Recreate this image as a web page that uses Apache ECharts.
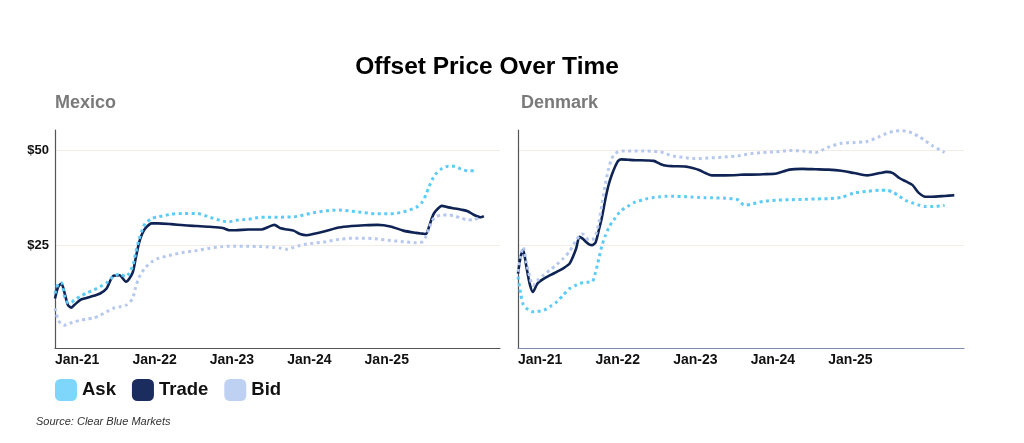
<!DOCTYPE html>
<html>
<head>
<meta charset="utf-8">
<script src="https://cdn.jsdelivr.net/npm/echarts@6/dist/echarts.min.js"></script>
<style>
  html, body { margin: 0; padding: 0; background: #fff; }
  #chart { width: 1024px; height: 443px; }
</style>
</head>
<body>
<div id="chart"></div>
<script>
// months counted from Jan-21
var tickMonths = [0, 12, 24, 36, 48];
var tickLabels = ['Jan-21', 'Jan-22', 'Jan-23', 'Jan-24', 'Jan-25'];
var yTicks = [25, 50];

// Mexico
var mxMonths = [0, 0.5, 1, 1.5, 2, 2.5, 3, 4, 5, 6, 7, 8, 9, 10, 11, 12, 12.5, 13, 13.5, 14, 15, 16, 18, 20, 22, 24, 26, 27, 28, 30, 32, 33, 34, 35, 36, 37, 38, 39, 40, 42, 44, 46, 48, 50, 52, 54, 56, 57, 57.5, 58, 58.5, 59, 60, 61, 62, 63, 64, 65, 66, 66.5];
var mxAsk = [12.4, 15.0, 15.2, 11.5, 10.0, 10.0, 10.7, 11.7, 12.6, 13.3, 14.2, 15.2, 16.8, 17.5, 16.8, 19.4, 23.0, 26.4, 29.0, 30.8, 32.1, 32.5, 33.2, 33.4, 33.4, 32.4, 31.4, 31.2, 31.6, 31.9, 32.4, 32.4, 32.4, 32.4, 32.5, 32.5, 32.8, 33.2, 33.6, 34.1, 34.3, 34.0, 33.6, 33.3, 33.3, 33.8, 35.0, 36.5, 38.3, 40.4, 42.3, 43.7, 45.2, 45.8, 45.8, 45.0, 44.6, 44.6, null, null];
var mxTrade = [11.1, 14.2, 15.0, 12.4, 9.4, 8.7, 9.4, 10.8, 11.3, 11.8, 12.4, 13.7, 17.0, 17.2, 15.5, 17.7, 21.5, 25.5, 28.0, 29.5, 30.8, 30.8, 30.6, 30.3, 30.1, 29.9, 29.6, 29.0, 29.0, 29.2, 29.2, 29.8, 30.4, 29.5, 29.2, 28.9, 28.0, 27.7, 28.0, 28.8, 29.7, 30.1, 30.3, 30.4, 30.0, 28.9, 28.3, 28.1, 28.0, 29.9, 32.5, 34.0, 35.4, 35.0, 34.7, 34.4, 34.0, 33.0, 32.4, 32.7];
var mxBid = [8.5, 5.4, 4.4, 4.1, 4.3, 4.7, 5.0, 5.4, 5.7, 6.0, 6.7, 7.6, 8.5, 8.9, 9.3, 11.0, 14.0, 16.5, 18.0, 19.2, 20.7, 21.6, 22.5, 23.2, 23.7, 24.3, 24.7, 24.8, 24.8, 24.8, 24.7, 24.6, 24.5, 24.3, 24.0, 24.5, 25.0, 25.4, 25.6, 26.0, 26.6, 26.9, 26.9, 26.7, 26.3, 26.0, 25.7, 26.0, 27.3, 29.5, 31.5, 32.5, 33.0, 33.0, 32.7, 32.2, 31.7, 31.8, 32.5, null];

// Denmark
var dkMonths = [0, 0.4, 0.8, 1.3, 1.8, 2.3, 3, 4, 5, 6, 7, 8, 9, 9.5, 10, 10.5, 11, 11.5, 12, 12.5, 13, 13.5, 14, 14.5, 15, 15.5, 16, 17, 18, 20, 21, 22, 23, 24, 26, 27, 28, 29, 30, 32, 34, 35, 36, 38, 40, 42, 44, 46, 48, 50, 52, 54, 56, 57, 58, 59, 60, 61, 62, 63, 64, 66, 67.5];
var dkAsk = [16.8, 12.5, 9.5, 8.5, 8.0, 7.6, 7.7, 8.0, 9.0, 10.2, 12.0, 13.7, 14.6, 15.0, 15.2, 15.3, 15.4, 15.5, 18.0, 21.5, 25.0, 27.5, 29.5, 31.0, 32.1, 33.3, 34.2, 35.3, 36.3, 37.3, 37.6, 37.8, 37.9, 37.9, 37.8, 37.7, 37.6, 37.5, 37.5, 37.4, 37.0, 35.6, 35.8, 36.6, 36.9, 37.0, 37.1, 37.2, 37.3, 37.6, 38.8, 39.2, 39.5, 39.5, 39.0, 37.9, 36.8, 36.2, 35.6, 35.2, 35.2, 35.5, null];
var dkTrade = [17.6, 22.0, 23.8, 19.4, 15.0, 12.8, 15.0, 16.3, 17.2, 18.1, 19.0, 20.3, 24.2, 27.3, 26.8, 26.0, 25.3, 25.1, 25.8, 29.0, 32.5, 37.0, 40.8, 43.5, 45.6, 47.2, 47.6, 47.5, 47.4, 47.3, 47.2, 46.4, 45.9, 45.8, 45.7, 45.3, 44.8, 44.0, 43.4, 43.4, 43.5, 43.6, 43.6, 43.7, 43.9, 44.9, 45.1, 45.0, 44.9, 44.6, 44.0, 43.4, 44.0, 44.3, 44.0, 42.7, 41.8, 40.9, 38.8, 37.8, 37.8, 38.0, 38.2];
var dkBid = [18.1, 22.0, 24.6, 20.5, 17.0, 14.5, 15.8, 17.3, 18.6, 20.0, 21.6, 23.5, 26.4, 27.5, 28.0, 27.2, 26.4, 26.5, 27.7, 31.0, 36.0, 41.0, 45.0, 47.8, 49.0, 49.6, 49.8, 49.8, 49.8, 49.8, 49.7, 49.6, 49.0, 48.5, 48.0, 47.8, 47.8, 47.9, 48.0, 48.2, 48.5, 48.8, 49.1, 49.4, 49.6, 49.9, 49.8, 49.4, 50.8, 51.8, 52.0, 52.3, 53.6, 54.4, 54.9, 55.1, 55.0, 54.5, 53.6, 52.5, 51.3, 49.4, null];

var ASK = '#5ccbf7', ASK_KEY = '#7fd6fb';
var TRADE = '#0f2454', TRADE_KEY = '#1b2d5f';
var BID = '#b7c8ee', BID_KEY = '#bed1f2';
var FONT = 'Liberation Sans, Arial, sans-serif';

function pairs(xs, ys) {
  return xs.map(function (x, i) { return [x, ys[i]]; });
}

function xAxisFor(idx, lineColor) {
  return {
    type: 'value', gridIndex: idx, min: 0, max: 69,
    axisLine: { show: true, onZero: false, lineStyle: { color: lineColor, width: 1.2 } },
    axisTick: { show: false },
    splitLine: { show: false },
    axisLabel: {
      customValues: tickMonths,
      align: 'left', margin: 5,
      fontFamily: FONT, fontWeight: 'bold', fontSize: 14, color: '#111',
      formatter: function (v) { return tickLabels[tickMonths.indexOf(v)] || ''; }
    }
  };
}

function yAxisFor(idx, showLabels) {
  return {
    type: 'value', gridIndex: idx, min: -1.9, max: 55.3,
    axisLine: { show: true, lineStyle: { color: '#555', width: 1.2 } },
    axisTick: { show: false, customValues: yTicks },
    splitLine: { show: true, lineStyle: { color: '#f3ede6', width: 1 } },
    axisLabel: {
      show: showLabels, customValues: yTicks, margin: 6,
      fontFamily: FONT, fontWeight: 'bold', fontSize: 13, color: '#111',
      formatter: function (v) { return '$' + v; }
    }
  };
}

function lineSeries(name, idx, xs, ys, color, key, dotted) {
  return {
    name: name, type: 'line', xAxisIndex: idx, yAxisIndex: idx,
    data: pairs(xs, ys), showSymbol: false, smooth: 0.25,
    color: key,
    lineStyle: dotted
      ? { color: color, width: 3, type: [3, 3.5] }
      : { color: color, width: 2.6 },
    z: dotted ? 3 : 2
  };
}

var chart = echarts.init(document.getElementById('chart'), null, { renderer: 'canvas' });

chart.setOption({
  animation: false,
  backgroundColor: '#fff',
  textStyle: { fontFamily: FONT },
  graphic: [
    { type: 'text', x: 487, y: 67, style: { text: 'Offset Price Over Time', fontSize: 24.5, fontWeight: 'bold', fill: '#000', align: 'center', verticalAlign: 'middle', fontFamily: FONT } },
    { type: 'text', x: 55, y: 103, style: { text: 'Mexico', fontSize: 18, fontWeight: 'bold', fill: '#7a7a7a', verticalAlign: 'middle', fontFamily: FONT } },
    { type: 'text', x: 521, y: 103, style: { text: 'Denmark', fontSize: 18, fontWeight: 'bold', fill: '#7a7a7a', verticalAlign: 'middle', fontFamily: FONT } },
    { type: 'text', x: 36, y: 422, style: { text: 'Source: Clear Blue Markets', fontSize: 11, fontStyle: 'italic', fill: '#333', verticalAlign: 'middle', fontFamily: FONT } }
  ],
  legend: {
    left: 55, top: 379, padding: 0,
    data: ['Ask', 'Trade', 'Bid'],
    icon: 'roundRect', itemWidth: 22, itemHeight: 22, itemGap: 16,
    itemStyle: { borderWidth: 0 },
    textStyle: { fontSize: 18.5, fontWeight: 'bold', color: '#111', fontFamily: FONT }
  },
  grid: [
    { left: 55, top: 130, width: 445, height: 218 },
    { left: 518, top: 130, width: 446, height: 218 }
  ],
  xAxis: [xAxisFor(0, '#555'), xAxisFor(1, '#7d8bb0')],
  yAxis: [yAxisFor(0, true), yAxisFor(1, false)],
  series: [
    lineSeries('Ask', 0, mxMonths, mxAsk, ASK, ASK_KEY, true),
    lineSeries('Trade', 0, mxMonths, mxTrade, TRADE, TRADE_KEY, false),
    lineSeries('Bid', 0, mxMonths, mxBid, BID, BID_KEY, true),
    lineSeries('Ask', 1, dkMonths, dkAsk, ASK, ASK_KEY, true),
    lineSeries('Trade', 1, dkMonths, dkTrade, TRADE, TRADE_KEY, false),
    lineSeries('Bid', 1, dkMonths, dkBid, BID, BID_KEY, true)
  ]
});
</script>
</body>
</html>
